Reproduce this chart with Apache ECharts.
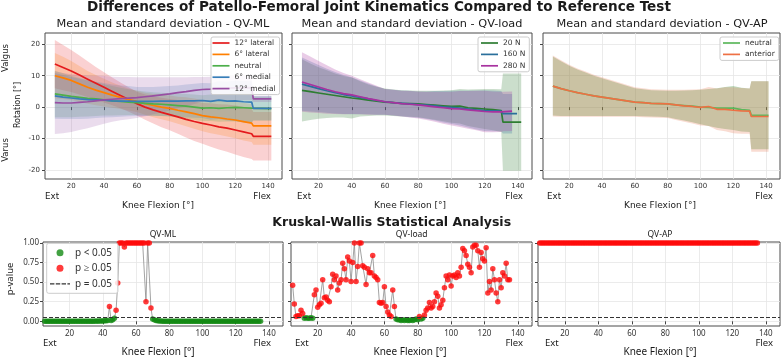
<!DOCTYPE html>
<html lang="en">
<head>
<meta charset="UTF-8" />
<title>Patello-Femoral Joint Kinematics</title>
<script src="https://cdn.jsdelivr.net/npm/echarts@6/dist/echarts.min.js"></script>
<style>
  html, body { margin: 0; padding: 0; background: #fff; }
  #main { width: 782px; height: 358px; }
</style>
</head>
<body>
<div id="main"></div>
<script>
// ---- top row: mean and sd of rotation [deg] vs knee flexion ----
var angML = [10,15,20,25,30,35,40,45,50,55,60,65,70,75,80,85,90,95,100,105,110,115,120,125,130,131,142];
var lat12   = [13.7,12.6,11.5,10.2,8.9,7.6,6.3,5.0,3.7,2.4,1.1,0.0,-0.9,-1.7,-2.4,-3.1,-3.9,-4.6,-5.2,-5.7,-6.3,-6.7,-7.3,-7.9,-8.5,-9.3,-9.3];
var lat12Sd = [7.7,7.2,6.7,6.2,5.7,5.2,4.8,4.4,4.1,3.9,3.8,4.0,4.3,4.7,5.0,5.4,5.8,6.2,6.5,6.9,7.2,7.5,7.8,8.0,8.0,7.7,7.7];
var lat6    = [10.0,9.3,8.5,7.4,6.3,5.4,4.6,3.8,3.1,2.4,1.8,1.1,0.5,0.0,-0.4,-1.0,-1.5,-2.1,-2.7,-3.1,-3.4,-3.8,-4.1,-4.6,-5.1,-6.0,-6.0];
var lat6Sd  = [7.2,6.7,6.2,5.7,5.2,4.8,4.4,4.0,3.7,3.5,3.4,3.5,3.7,3.9,4.1,4.3,4.6,4.8,5.0,5.2,5.4,5.6,5.8,6.0,6.0,6.0,6.0];
var neuML   = [4.2,3.8,3.4,3.1,2.8,2.6,2.3,2.0,1.8,1.6,1.4,1.2,1.0,0.9,0.7,0.5,0.3,0.0,-0.3,-0.2,-0.4,-0.2,-0.1,-0.2,-0.3,-0.5,-0.5];
var neuMLSd = [7.4,7.0,6.6,6.2,5.8,5.4,5.0,4.7,4.4,4.1,3.9,3.8,3.7,3.7,3.7,3.8,3.9,4.0,4.1,4.2,4.3,4.4,4.5,4.6,4.6,3.8,3.8];
var med6    = [3.6,3.2,2.9,2.6,2.4,2.3,2.2,2.0,1.9,1.9,1.8,1.8,1.8,1.9,1.9,1.9,2.0,2.0,2.1,1.8,2.2,1.9,2.0,1.7,1.6,-0.4,-0.4];
var med6Sd  = [7.3,7.0,6.7,6.4,6.1,5.8,5.5,5.2,5.0,4.8,4.6,4.6,4.6,4.7,4.8,5.0,5.2,5.4,5.6,5.8,6.0,6.2,6.4,6.6,6.6,3.9,3.9];
var med12   = [1.4,1.3,1.3,1.5,1.7,2.0,2.3,2.5,2.7,2.85,3.0,3.3,3.6,3.9,4.2,4.6,4.9,5.3,5.6,5.7,5.9,6.0,6.1,6.1,6.2,2.6,2.6];
var med12Sd = [10.0,9.6,9.2,8.8,8.4,8.0,7.6,7.2,6.9,6.7,6.5,6.2,5.9,5.6,5.3,4.9,4.6,4.3,4.0,4.0,3.9,3.9,3.9,3.9,3.9,1.0,1.0];

var angLoad = [10,15,20,25,30,35,40,45,50,55,60,65,70,75,80,85,90,95,100,105,110,115,120,125,130,131,136.5,139.5,142];
var n20     = [5.3,4.9,4.5,4.1,3.7,3.3,2.9,2.6,2.2,1.9,1.6,1.4,1.2,1.1,1.0,0.8,0.6,0.4,0.2,0.3,-0.2,-0.4,-0.6,-0.8,-1.1,-4.8,-4.8,-4.8,-4.8];
var n20Sd   = [9.9,9.0,8.2,7.6,7.0,6.6,6.5,5.6,5.0,4.6,4.3,4.2,4.2,4.2,4.2,4.4,4.6,4.9,5.2,5.5,5.8,6.1,6.4,6.6,6.8,15.5,15.5,15.5,15.5];
var n160    = [7.3,6.6,5.9,5.2,4.6,4.0,3.6,3.1,2.6,2.1,1.7,1.4,1.2,1.0,0.8,0.6,0.4,0.1,-0.1,-0.3,-0.6,-0.9,-1.1,-1.2,-1.3,-2.1,-2.1,-2.1,null];
var n160Sd  = [8.5,8.0,7.5,7.0,6.6,6.2,5.9,5.4,4.9,4.5,4.1,4.1,4.1,4.2,4.2,4.4,4.7,5.0,5.3,5.6,5.9,6.2,6.5,6.5,6.4,6.3,6.3,null,null];
var n280    = [8.0,7.2,6.4,5.6,4.9,4.3,3.9,3.3,2.7,2.2,1.7,1.4,1.1,0.9,0.7,0.4,0.1,-0.2,-0.5,-0.6,-0.9,-1.1,-1.4,-1.5,-1.5,-1.4,-1.3,null,null];
var n280Sd  = [9.5,8.9,8.3,7.7,7.1,6.6,6.1,5.6,5.1,4.6,4.1,4.1,4.1,4.2,4.3,4.5,4.8,5.1,5.4,5.7,6.0,6.3,6.6,6.5,6.4,6.3,6.3,null,null];

var angAP   = [10,15,20,25,30,35,40,45,50,55,60,65,70,75,80,85,90,95,100,105,110,115,120,125,130,131,141.5];
var neuAP   = [6.7,5.9,5.2,4.6,4.1,3.6,3.2,2.8,2.4,2.0,1.6,1.4,1.2,1.1,1.0,0.7,0.5,0.3,0.0,-0.1,-0.3,-0.3,-0.3,-0.8,-1.0,-2.6,-2.6];
var neuAPSd = [9.4,8.7,8.0,7.4,6.9,6.4,6.0,5.6,5.2,4.8,4.4,4.3,4.2,4.2,4.2,4.5,4.8,5.1,5.5,5.9,6.3,6.7,7.0,7.0,6.9,10.8,10.8];
var antAP   = [6.7,5.9,5.2,4.6,4.1,3.6,3.2,2.8,2.4,2.0,1.6,1.4,1.2,1.1,1.0,0.7,0.4,0.2,-0.1,0.2,-0.7,-0.7,-1.0,-1.2,-1.3,-3.0,-3.0];
var antAPSd = [9.7,9.0,8.3,7.7,7.2,6.7,6.3,5.9,5.5,5.1,4.7,4.6,4.5,4.5,4.5,4.8,5.1,5.4,5.8,6.2,6.6,7.0,7.3,7.3,7.2,11.2,11.2];

// ---- bottom row: Kruskal-Wallis p-values, one per degree (5..135) ----
var angP = [5,6,7,8,9,10,11,12,13,14,15,16,17,18,19,20,21,22,23,24,25,26,27,28,29,30,31,32,33,34,
  35,36,37,38,39,40,41,42,43,44,45,46,47,48,49,50,51,52,53,54,55,56,57,58,59,60,61,62,63,64,
  65,66,67,68,69,70,71,72,73,74,75,76,77,78,79,80,81,82,83,84,85,86,87,88,89,90,91,92,93,94,
  95,96,97,98,99,100,101,102,103,104,105,106,107,108,109,110,111,112,113,114,115,116,117,118,119,120,121,122,123,124,
  125,126,127,128,129,130,131,132,133,134,135];
var pML = [
  0.002,0.001,0.002,0.001,0.001,0.002,0.001,0.001,0.002,0.001,
  0.001,0.001,0.002,0.001,0.001,0.001,0.002,0.001,0.001,0.001,
  0.001,0.002,0.001,0.001,0.001,0.001,0.002,0.001,0.001,0.002,
  0.002,0.003,0.002,0.004,0.003,0.005,0.006,0.008,0.01,0.19,
  0.01,0.02,0.04,0.14,0.49,1,1,1,0.95,1,
  1,1,1,1,1,1,1,1,1,1,
  1,0.25,1,1,0.17,0.03,0.02,0.01,0.006,0.004,
  0.003,0.002,0.002,0.002,0.001,0.001,0.001,0.001,0.001,0.001,
  0.001,0.001,0.001,0.001,0.001,0.001,0.001,0.001,0.001,0.001,
  0.001,0.001,0.001,0.001,0.001,0.001,0.001,0.001,0.001,0.001,
  0.001,0.001,0.001,0.001,0.001,0.001,0.001,0.001,0.001,0.001,
  0.001,0.001,0.001,0.001,0.001,0.001,0.001,0.001,0.001,0.001,
  0.001,0.001,0.001,0.001,0.001,0.001,0.001,0.001,0.001,0.001,
  0.001];
var pLoad = [
  0.46,0.22,0.06,0.07,0.07,0.14,0.10,0.04,0.045,0.04,
  0.04,0.045,0.04,0.34,0.40,0.18,0.21,0.23,0.53,0.30,
  0.31,0.27,0.25,0.44,0.60,0.53,0.58,0.40,0.49,0.53,
  0.74,0.67,0.53,0.82,0.77,0.51,0.75,1.0,0.51,0.70,
  1.0,1.0,0.71,0.69,0.47,0.67,0.62,0.62,0.84,0.58,
  0.56,0.53,0.24,0.23,0.24,0.44,0.19,0.12,0.08,0.06,
  0.40,0.19,0.03,0.02,0.02,0.01,0.02,0.01,0.02,0.01,
  0.01,0.02,0.01,0.02,0.03,0.02,0.06,0.03,0.04,0.08,
  0.14,0.17,0.24,0.17,0.19,0.25,0.36,0.32,0.17,0.21,
  0.27,0.43,0.58,0.53,0.59,0.45,0.58,0.59,0.56,0.62,
  0.58,0.69,0.93,0.90,0.84,0.73,0.69,0.62,0.95,0.97,
  0.97,0.90,0.69,0.88,0.80,0.77,0.94,0.36,0.51,0.40,
  0.67,0.53,0.36,0.25,0.53,0.43,0.62,0.58,0.74,0.53,
  0.53];
var pAP = [
  1,1,1,1,1,1,1,1,1,1, 1,1,1,1,1,1,1,1,1,1, 1,1,1,1,1,1,1,1,1,1,
  1,1,1,1,1,1,1,1,1,1, 1,1,1,1,1,1,1,1,1,1, 1,1,1,1,1,1,1,1,1,1,
  1,1,1,1,1,1,1,1,1,1, 1,1,1,1,1,1,1,1,1,1, 1,1,1,1,1,1,1,1,1,1,
  1,1,1,1,1,1,1,1,1,1, 1,1,1,1,1,1,1,1,1,1, 1,1,1,1,1,1,1,1,1,1,
  1,1,1,1,1,1,1,1,1,1, 1];

var xTicks = [20, 40, 60, 80, 100, 120, 140];
var rotTicks = [-20, -10, 0, 10, 20];
var pTicks = [0, 0.25, 0.5, 0.75, 1];
var alpha = 0.05;

var chart = echarts.init(document.getElementById('main'));

function pairs(xs, ys) {
  return xs.map(function (x, i) { return [x, ys[i]]; });
}

// mean +/- sd band as one polygon, placed with the axis scales
function band(ax, xs, mean, sd, color, op) {
  return {
    type: 'custom', xAxisIndex: ax, yAxisIndex: ax, silent: true, z: 1,
    data: [0],
    renderItem: function (params, api) {
      var up = [], low = [];
      for (var i = 0; i < xs.length; i++) {
        if (mean[i] == null || sd[i] == null) continue;
        up.push(api.coord([xs[i], mean[i] + sd[i]]));
        low.unshift(api.coord([xs[i], mean[i] - sd[i]]));
      }
      return { type: 'polygon', shape: { points: up.concat(low) }, style: { fill: color, opacity: op } };
    }
  };
}

function meanLine(ax, name, xs, ys, color) {
  return {
    type: 'line', name: name, xAxisIndex: ax, yAxisIndex: ax, data: pairs(xs, ys),
    symbol: 'none', showSymbol: false, z: 3,
    lineStyle: { width: 1.7, color: color }, itemStyle: { color: color }
  };
}

function pSeries(ax, ps) {
  var lo = [], hi = [];
  ps.forEach(function (p, i) {
    if (p < alpha) lo.push([angP[i], p]); else hi.push([angP[i], p]);
  });
  return [
    { type: 'line', xAxisIndex: ax, yAxisIndex: ax, data: pairs(angP, ps), symbol: 'none',
      lineStyle: { color: '#8c8c8c', width: 0.8 }, silent: true, z: 2 },
    { type: 'scatter', name: 'p < 0.05', xAxisIndex: ax, yAxisIndex: ax, data: lo,
      symbolSize: 5.5, itemStyle: { color: '#138a13' }, z: 3 },
    { type: 'scatter', name: 'p \u2265 0.05', xAxisIndex: ax, yAxisIndex: ax, data: hi,
      symbolSize: 5.5, itemStyle: { color: '#ff0a0a' }, z: 3 },
    { type: 'line', name: 'p = 0.05', xAxisIndex: ax, yAxisIndex: ax, data: [],
      symbol: 'none', lineStyle: { color: '#333', width: 1.2, type: [4, 2] }, itemStyle: { color: '#333' }, z: 4,
      markLine: { silent: true, symbol: ['none', 'none'], label: { show: false },
        lineStyle: { color: '#333', width: 1.2, type: [4, 2] }, data: [{ yAxis: alpha }] } }
  ];
}

var topFont = 'DejaVu Sans', botFont = 'Noto Sans';

function xAx(i, bottom) {
  return {
    type: 'value', gridIndex: i, min: 4, max: 148.5, splitNumber: 7,
    axisLine: { show: false },
    axisTick: { length: 3, lineStyle: { color: '#444' }, customValues: xTicks },
    axisLabel: { customValues: xTicks, margin: 4,
      fontSize: bottom ? 8 : 7, fontFamily: bottom ? botFont : topFont, color: '#333' },
    splitLine: { lineStyle: { color: '#e6e6e6', width: 0.8 } }
  };
}
function yTop(i, labels) {
  return {
    type: 'value', gridIndex: i, min: -22.9, max: 23.6, splitNumber: 5,
    axisLine: { show: false },
    axisTick: { length: 3, lineStyle: { color: '#444' }, customValues: rotTicks },
    axisLabel: { show: labels, customValues: rotTicks,
      margin: 5, fontSize: 7, fontFamily: topFont, color: '#333' },
    splitLine: { lineStyle: { color: '#e6e6e6', width: 0.8 } }
  };
}
function yBot(i, labels) {
  return {
    type: 'value', gridIndex: i, min: -0.06, max: 1.013,
    axisLine: { show: false },
    axisTick: { length: 3, lineStyle: { color: '#444' }, customValues: pTicks },
    axisLabel: { show: labels, customValues: pTicks, margin: 4, fontSize: 8, fontFamily: botFont, color: '#333',
      formatter: function (v) { return v.toFixed(2); } },
    splitLine: { lineStyle: { color: '#e6e6e6', width: 0.8 } }
  };
}

function txt(x, y, s, font, align, rot) {
  return { type: 'text', x: x, y: y, rotation: rot || 0, silent: true, z: 10,
    style: { text: s, font: font, textAlign: align || 'center', align: align || 'center',
      textVerticalAlign: 'middle', verticalAlign: 'middle', fill: '#1a1a1a' } };
}

var gridBase = { show: true, borderColor: '#4a4a4a', borderWidth: 1, backgroundColor: 'transparent' };
function grid(l, t, w, h) { return Object.assign({ left: l, top: t, width: w, height: h }, gridBase); }

var legendBase = {
  orient: 'vertical', selectedMode: false, backgroundColor: 'rgba(255,255,255,0.85)',
  borderColor: '#cccccc', borderWidth: 1, borderRadius: 2, z: 20
};
function legend(extra) { return Object.assign({}, legendBase, extra); }

var topLegendText = { fontSize: 7.5, lineHeight: 9, fontFamily: topFont, color: '#333' };
var lineIcon = 'path://M0,0h17v1.7h-17z';
var dashIcon = 'path://M0,0h4.4v1.2h-4.4zM5.8,0h4.4v1.2h-4.4zM11.6,0h4.4v1.2h-4.4zM17.4,0h2.6v1.2h-2.6z';

var ML = ['#e41a1c', '#ff7f00', '#4daf4a', '#377eb8', '#984ea3'];
var LOAD = ['#2e7d32', '#2a6f9b', '#a8329f'];
var AP = ['#5cb85c', '#ee7044'];

var series = [
  band(0, angML, lat12, lat12Sd, ML[0], 0.2),
  band(0, angML, lat6, lat6Sd, ML[1], 0.2),
  band(0, angML, neuML, neuMLSd, ML[2], 0.2),
  band(0, angML, med6, med6Sd, ML[3], 0.2),
  band(0, angML, med12, med12Sd, ML[4], 0.2),
  meanLine(0, '12\u00b0 lateral', angML, lat12, ML[0]),
  meanLine(0, '6\u00b0 lateral', angML, lat6, ML[1]),
  meanLine(0, 'neutral', angML, neuML, ML[2]),
  meanLine(0, '6\u00b0 medial', angML, med6, ML[3]),
  meanLine(0, '12\u00b0 medial', angML, med12, ML[4]),

  band(1, angLoad, n20, n20Sd, LOAD[0], 0.25),
  band(1, angLoad, n160, n160Sd, LOAD[1], 0.25),
  band(1, angLoad, n280, n280Sd, LOAD[2], 0.25),
  meanLine(1, '20 N', angLoad, n20, LOAD[0]),
  meanLine(1, '160 N', angLoad, n160, LOAD[1]),
  meanLine(1, '280 N', angLoad, n280, LOAD[2]),

  band(2, angAP, neuAP, neuAPSd, '#4a9a4a', 0.35),
  band(2, angAP, antAP, antAPSd, '#e8734a', 0.25),
  meanLine(2, 'neutral ', angAP, neuAP, AP[0]),
  meanLine(2, 'anterior', angAP, antAP, AP[1])
].concat(pSeries(3, pML), pSeries(4, pLoad), pSeries(5, pAP));

var graphics = [
  txt(379, 7.5, 'Differences of Patello-Femoral Joint Kinematics Compared to Reference Test', 'bold 13.6px "DejaVu Sans"'),
  txt(163, 24.5, 'Mean and standard deviation - QV-ML', '11.3px "DejaVu Sans"'),
  txt(412, 24.5, 'Mean and standard deviation - QV-load', '11.3px "DejaVu Sans"'),
  txt(662, 24.5, 'Mean and standard deviation - QV-AP', '11.3px "DejaVu Sans"'),
  txt(6, 58, 'Valgus', '8.5px "DejaVu Sans"', 'center', Math.PI / 2),
  txt(18, 105, 'Rotation [\u00b0]', '8px "DejaVu Sans"', 'center', Math.PI / 2),
  txt(6, 150, 'Varus', '8.5px "DejaVu Sans"', 'center', Math.PI / 2),
  txt(391.7, 222.7, 'Kruskal-Wallis Statistical Analysis', 'bold 12.5px "DejaVu Sans"'),
  txt(163, 234.3, 'QV-ML', '8.5px "Noto Sans"'),
  txt(411.7, 234.3, 'QV-load', '8.5px "Noto Sans"'),
  txt(660, 234.3, 'QV-AP', '8.5px "Noto Sans"'),
  txt(10.5, 279, 'p-value', '9.5px "Noto Sans"', 'center', Math.PI / 2)
];
[[45, 271, 158], [297, 523, 410], [547, 773, 660]].forEach(function (p) {
  graphics.push(txt(p[0], 196.7, 'Ext', '8.7px "DejaVu Sans"', 'left'));
  graphics.push(txt(p[1], 196.7, 'Flex', '8.7px "DejaVu Sans"', 'right'));
  graphics.push(txt(p[2], 205.5, 'Knee Flexion [\u00b0]', '9px "DejaVu Sans"'));
  graphics.push(txt(p[0] - 2, 343.3, 'Ext', '9.5px "Noto Sans"', 'left'));
  graphics.push(txt(p[1], 343.3, 'Flex', '9.5px "Noto Sans"', 'right'));
  graphics.push(txt(p[2], 352.5, 'Knee Flexion [\u00b0]', '10px "Noto Sans"'));
});

chart.setOption({
  animation: false,
  backgroundColor: '#ffffff',
  grid: [
    grid(45, 33, 237, 146), grid(292, 33, 240, 146), grid(543, 33, 237, 146),
    grid(43, 242, 240, 84), grid(291, 242, 241, 84), grid(538, 242, 242, 84)
  ],
  xAxis: [xAx(0), xAx(1), xAx(2), xAx(3, true), xAx(4, true), xAx(5, true)],
  yAxis: [yTop(0, true), yTop(1, false), yTop(2, false), yBot(3, true), yBot(4, false), yBot(5, false)],
  legend: [
    legend({ left: 211, top: 37, padding: [1.5, 4, 1.5, 1.5], itemWidth: 17, itemHeight: 8, itemGap: 2.4,
      icon: lineIcon, textStyle: topLegendText,
      data: ['12\u00b0 lateral', '6\u00b0 lateral', 'neutral', '6\u00b0 medial', '12\u00b0 medial'] }),
    legend({ left: 478, top: 37, padding: [1.5, 4, 1.5, 3], itemWidth: 17, itemHeight: 8, itemGap: 2.4,
      icon: lineIcon, textStyle: topLegendText, data: ['20 N', '160 N', '280 N'] }),
    legend({ left: 720, top: 37, padding: [1.5, 4, 1.5, 3], itemWidth: 17, itemHeight: 8, itemGap: 2.4,
      icon: lineIcon, textStyle: topLegendText, data: ['neutral ', 'anterior'] }),
    legend({ left: 46.7, top: 243.3, padding: [4.4, 6, 4.4, 3.3], itemWidth: 20, itemHeight: 7, itemGap: 5.6,
      textStyle: { fontSize: 10, lineHeight: 10, fontFamily: botFont, color: '#333' },
      data: [
        { name: 'p < 0.05', icon: 'circle' },
        { name: 'p \u2265 0.05', icon: 'circle' },
        { name: 'p = 0.05', icon: dashIcon }
      ] })
  ],
  graphic: graphics,
  series: series
});
</script>
</body>
</html>
